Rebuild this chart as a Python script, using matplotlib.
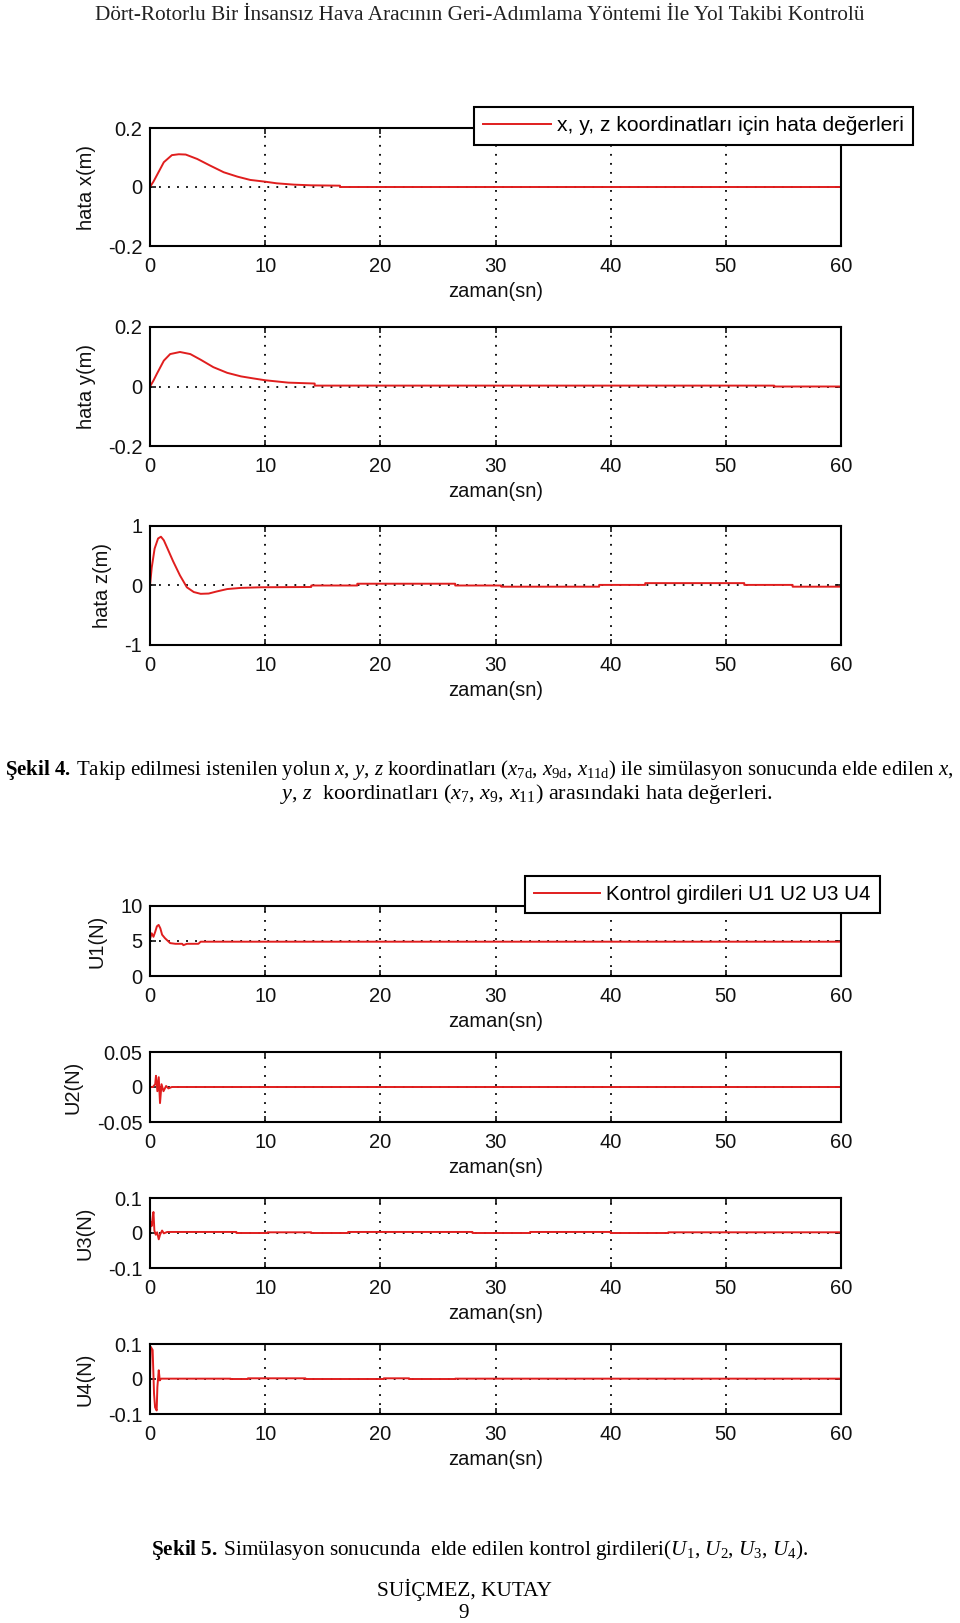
import matplotlib
matplotlib.use('Agg')
import matplotlib.pyplot as plt

# ---------------------------
# data
# ---------------------------
t_x = [0, 0.3, 0.6, 1.2, 1.9, 2.5, 3.1, 4.1, 5.2, 6.4, 7.6, 8.7, 10, 11, 12.5, 14, 16.5, 16.5, 60]
hata_x = [0, 0.018, 0.04, 0.084, 0.108, 0.111, 0.110, 0.095, 0.073, 0.05, 0.035, 0.024, 0.018,
          0.0125, 0.008, 0.0057, 0.0045, 0, 0]

t_y = [0, 0.3, 0.6, 1.2, 1.75, 2.6, 3.5, 4.4, 5.5, 6.7, 7.9, 9, 10, 12, 14.3, 14.3, 54.2, 54.2, 60]
hata_y = [0, 0.02, 0.043, 0.087, 0.109, 0.116, 0.109, 0.09, 0.065, 0.046, 0.034, 0.027, 0.021,
          0.013, 0.01, 0.003, 0.003, 0, 0]

t_z = [0, 0.15, 0.4, 0.7, 0.95, 1.2, 1.5, 2.0, 2.6, 3.2, 3.8, 4.4, 5.1, 5.8, 6.7, 7.9, 9.6, 14, 14,
       18, 18, 26.5, 26.5, 30.5, 30.5, 39, 39, 43, 43, 51.6, 51.6, 55.8, 55.8, 60]
hata_z = [0, 0.3, 0.62, 0.79, 0.82, 0.76, 0.63, 0.41, 0.17, -0.03, -0.11, -0.14, -0.135, -0.1,
          -0.06, -0.04, -0.03, -0.025, 0, 0, 0.03, 0.03, 0, 0, -0.02, -0.02, 0.01, 0.01, 0.04,
          0.04, 0.01, 0.01, -0.02, -0.02]

t_u1 = [0, 0.15, 0.3, 0.45, 0.6, 0.75, 0.9, 1.05, 1.3, 1.75, 2.2, 2.8, 2.9, 3.2, 4.2, 4.4, 60]
u1 = [5.3, 6.1, 5.6, 6.3, 7.1, 7.3, 6.8, 5.9, 5.4, 4.7, 4.6, 4.6, 4.4, 4.6, 4.6, 4.9, 4.9]

t_u2 = [0, 0.25, 0.45, 0.52, 0.64, 0.76, 0.87, 1.0, 1.17, 1.4, 1.6, 1.9, 60]
u2 = [0, 0, 0.004, 0.016, -0.006, 0.014, -0.023, 0.004, -0.006, 0.0015, -0.002, 0, 0]

t_u3 = [0, 0.06, 0.15, 0.25, 0.3, 0.38, 0.5, 0.62, 0.76, 0.87, 1.05, 1.2, 1.5, 7.5, 7.5, 10.2,
        10.2, 14, 14, 17.2, 17.2, 28, 28, 33, 33, 40, 40, 45, 45, 60]
u3 = [0, 0.031, 0.02, 0.05, 0.06, 0.007, -0.005, 0.002, -0.018, -0.005, 0.007, -0.001, 0.003,
      0.003, 0, 0, 0.002, 0.002, 0, 0, 0.003, 0.003, 0, 0, 0.003, 0.003, 0, 0, 0.002, 0.002]

t_u4 = [0, 0.06, 0.23, 0.35, 0.44, 0.58, 0.64, 0.76, 0.85, 0.96, 7, 7, 8.5, 8.5, 13.5, 13.5,
        20.3, 20.3, 22.5, 22.5, 26.5, 26.5, 60]
u4 = [0, 0.092, 0.083, -0.042, -0.081, -0.09, -0.023, 0.025, -0.004, 0.001, 0.001, 0, 0, 0.002,
      0.002, 0, 0, 0.002, 0.002, 0, 0, 0.001, 0.001]

panels = [
    (t_x, hata_x, 'hata x(m)', [-0.2, 0, 0.2], ['-0.2', '0', '0.2']),
    (t_y, hata_y, 'hata y(m)', [-0.2, 0, 0.2], ['-0.2', '0', '0.2']),
    (t_z, hata_z, 'hata z(m)', [-1, 0, 1], ['-1', '0', '1']),
    (t_u1, u1, 'U1(N)', [0, 5, 10], ['0', '5', '10']),
    (t_u2, u2, 'U2(N)', [-0.05, 0, 0.05], ['-0.05', '0', '0.05']),
    (t_u3, u3, 'U3(N)', [-0.1, 0, 0.1], ['-0.1', '0', '0.1']),
    (t_u4, u4, 'U4(N)', [-0.1, 0, 0.1], ['-0.1', '0', '0.1']),
]
x_ticks = [0, 10, 20, 30, 40, 50, 60]

# axes boxes in pixels (top, bottom) and ylabel centre x
W, H = 960, 1623
boxes = [(128, 246), (327, 446), (526, 645), (906, 976), (1052, 1122), (1198, 1268), (1344, 1414)]
ylab_x = [96, 96, 112, 106, 82, 94, 94]
LEFT, RIGHT = 150, 841

RED = '#e01e1e'
plt.rcParams['font.family'] = ['Liberation Sans', 'DejaVu Sans']
plt.rcParams['mathtext.fontset'] = 'custom'
plt.rcParams['mathtext.rm'] = 'Liberation Serif'
plt.rcParams['mathtext.it'] = 'Liberation Serif:italic'
plt.rcParams['mathtext.bf'] = 'Liberation Serif:bold'

fig = plt.figure(figsize=(W / 100, H / 100), dpi=100)
axes = []
for (t, v, lab, yt, ytl), (top, bot), lx in zip(panels, boxes, ylab_x):
    ax = fig.add_axes([LEFT / W, 1 - bot / H, (RIGHT - LEFT) / W, (bot - top) / H])
    line, = ax.plot(t, v, color=RED, lw=1.4)
    ax.set_xlim(0, 60)
    ax.set_ylim(yt[0], yt[-1])
    ax.set_xticks(x_ticks)
    ax.set_yticks(yt)
    ax.set_yticklabels(ytl)
    ax.grid(True, color='black', linestyle=(0, (1, 4)), lw=1.3)
    ax.tick_params(direction='in', length=4.5, width=1.2, top=True, right=True,
                   labelsize=14.5, colors='#111')
    ax.tick_params(axis='x', pad=8)
    ax.tick_params(axis='y', pad=5.5)
    for s in ax.spines.values():
        s.set_linewidth(1.5)
    ax.set_xlabel('zaman(sn)', fontsize=14.5, color='#111')
    ax.xaxis.set_label_coords(0.5, -36 / (bot - top), transform=ax.transAxes)
    ax.set_ylabel(lab, fontsize=14.5, color='#111')
    ax.yaxis.set_label_coords((lx - LEFT) / (RIGHT - LEFT), 0.5)
    axes.append((ax, line))

leg_kw = dict(loc='upper left', bbox_transform=fig.transFigure, fancybox=False,
              framealpha=1, edgecolor='black', handlelength=3.2,
              borderpad=0.45, handletextpad=0.3, borderaxespad=0)
lg1 = axes[0][0].legend([axes[0][1]], ['x, y, z koordinatları için hata değerleri'],
                        bbox_to_anchor=(474 / W, 1 - 107 / H), fontsize=15.1, **leg_kw)
lg1.get_frame().set_linewidth(1.5)
lg2 = axes[3][0].legend([axes[3][1]], ['Kontrol girdileri U1 U2 U3 U4'],
                        bbox_to_anchor=(525 / W, 1 - 876 / H), fontsize=14.8, **leg_kw)
lg2.get_frame().set_linewidth(1.5)

serif = ['Liberation Serif', 'DejaVu Serif']
fs = 15.3
fig.text(480 / W, 1 - 15 / H, 'Dört-Rotorlu Bir İnsansız Hava Aracının Geri-Adımlama Yöntemi İle Yol Takibi Kontrolü',
         ha='center', va='center', family=serif, fontsize=fs, color='#222')
fig.text(479 / W, 1 - 770 / H,
         r'$\mathbf{Şekil\ 4.}\:$Takip edilmesi istenilen yolun $x$, $y$, $z$ koordinatları '
         r'($x_{7\mathrm{d}}$, $x_{9\mathrm{d}}$, $x_{11\mathrm{d}}$) ile simülasyon sonucunda elde edilen $x$,',
         ha='center', va='center', family=serif, fontsize=15.0)
fig.text(526 / W, 1 - 794 / H,
         r'$y$, $z$  koordinatları ($x_{7}$, $x_{9}$, $x_{11}$) arasındaki hata değerleri.',
         ha='center', va='center', family=serif, fontsize=16)
fig.text(480 / W, 1 - 1550 / H,
         r'$\mathbf{Şekil\ 5.}\:$Simülasyon sonucunda  elde edilen kontrol girdileri($U_{1}$, $U_{2}$, $U_{3}$, $U_{4}$).',
         ha='center', va='center', family=serif, fontsize=fs)
fig.text(464 / W, 1 - 1590 / H, 'SUİÇMEZ, KUTAY', ha='center', va='center', family=serif, fontsize=fs)
fig.text(464 / W, 1 - 1614 / H, '9', ha='center', va='center', family=serif, fontsize=fs)

fig.savefig('out.png', dpi=100)
